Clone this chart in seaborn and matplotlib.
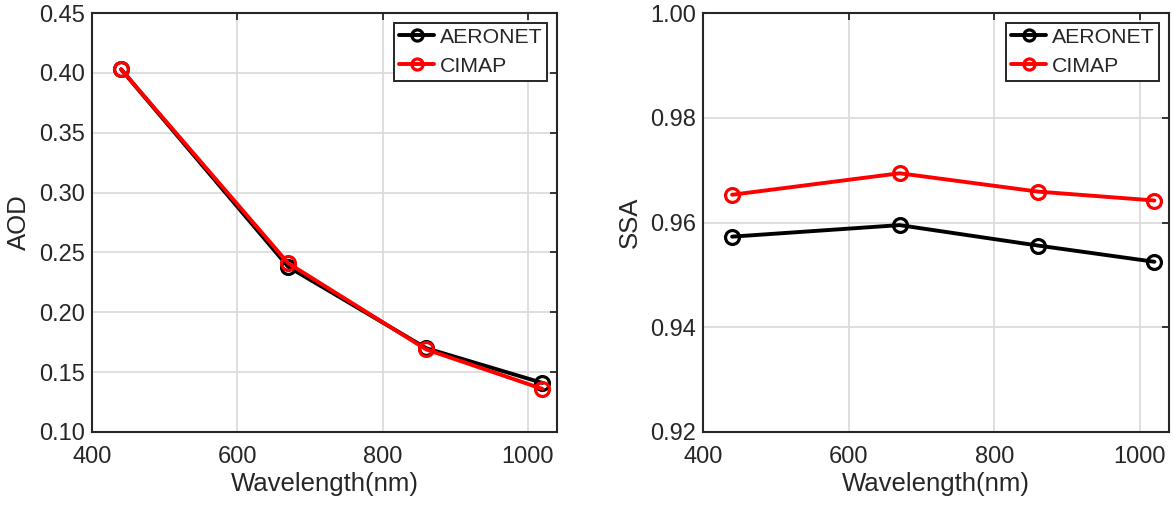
import matplotlib
matplotlib.use("Agg")
import matplotlib.pyplot as plt
import seaborn as sns
import pandas as pd

wavelength = [440, 670, 860, 1020]
aod_aeronet = [0.403, 0.238, 0.170, 0.141]
aod_cimap = [0.403, 0.241, 0.169, 0.136]
ssa_aeronet = [0.9573, 0.9595, 0.9556, 0.9525]
ssa_cimap = [0.9653, 0.9694, 0.9659, 0.9642]
series_names = ["AERONET", "CIMAP"]
series_colors = ["#000000", "#ff0000"]

sns.set_theme(style="white")
plt.rcParams['font.family'] = ['Liberation Sans', 'DejaVu Sans']

fig = plt.figure(figsize=(11.73, 5.08), dpi=100)
W, H = 1173, 508
ax1 = fig.add_axes([92 / W, (508 - 432) / H, (557 - 92) / W, (432 - 13) / H])
ax2 = fig.add_axes([703 / W, (508 - 432) / H, (1169 - 703) / W, (432 - 13) / H])


def draw(ax, ys, ylabel, ylim, yticks, fmt):
    for name, vals, col in zip(series_names, ys, series_colors):
        df = pd.DataFrame({"x": wavelength, "y": vals})
        sns.lineplot(data=df, x="x", y="y", ax=ax, color=col, linewidth=2.8,
                     marker="o", markersize=10, markerfacecolor="none",
                     markeredgecolor=col, markeredgewidth=2.3, label=name)
    ax.set_xlim(400, 1040)
    ax.set_ylim(*ylim)
    ax.set_xticks([400, 600, 800, 1000])
    ax.set_yticks(yticks)
    ax.set_yticklabels([fmt.format(v) for v in yticks])
    ax.grid(True, color="#dcdcdc", linewidth=1.3)
    ax.set_axisbelow(True)
    for s in ax.spines.values():
        s.set_color("#262626")
        s.set_linewidth(1.5)
    ax.tick_params(direction="in", length=5, width=1.3, top=True, right=True,
                   labelsize=17, colors="#262626")
    ax.tick_params(axis="x", pad=10)
    ax.tick_params(axis="y", pad=5)
    ax.set_xlabel("Wavelength(nm)", fontsize=18.5, color="#262626", labelpad=3)
    ax.set_ylabel(ylabel, fontsize=18.5, color="#262626", labelpad=6)
    leg = ax.legend(loc="upper right", fontsize=15.3, frameon=True, fancybox=False,
                    handlelength=1.65, handletextpad=0.25, borderpad=0.25,
                    labelspacing=0.47, borderaxespad=0.45, framealpha=1,
                    markerscale=0.8)
    leg.get_frame().set_edgecolor("#262626")
    leg.get_frame().set_linewidth(1.4)


draw(ax1, [aod_aeronet, aod_cimap], "AOD", (0.10, 0.45),
     [0.10, 0.15, 0.20, 0.25, 0.30, 0.35, 0.40, 0.45], "{:.2f}")
draw(ax2, [ssa_aeronet, ssa_cimap], "SSA", (0.92, 1.00),
     [0.92, 0.94, 0.96, 0.98, 1.00], "{:.2f}")

fig.savefig("out.png", dpi=100)
